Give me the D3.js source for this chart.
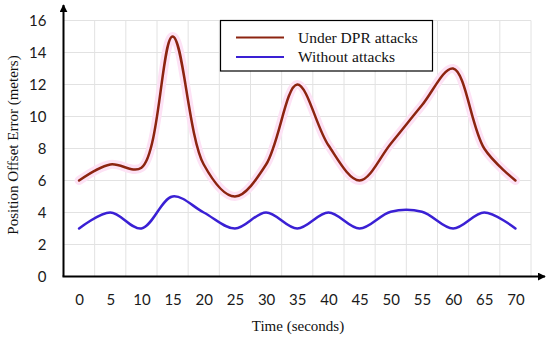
<!DOCTYPE html>
<html>
<head>
<meta charset="utf-8">
<script src="https://cdn.jsdelivr.net/npm/d3@7"></script>
<style>
  body { margin: 0; background: #fff; }
  svg { display: block; }
</style>
</head>
<body>
<div id="chart"></div>
<script>
// data
const times = [0, 5, 10, 15, 20, 25, 30, 35, 40, 45, 50, 55, 60, 65, 70];
const underAttack = [6, 7, 6.8, 15, 7, 5, 7, 12, 8.2, 6, 8.3, 10.7, 13, 8, 6];
const withoutAttack = [3, 4, 3, 5, 4, 3, 4, 3, 4, 3, 4.05, 4.05, 3, 4, 3];
const yTicks = [0, 2, 4, 6, 8, 10, 12, 14, 16];
const seriesNames = ['Under DPR attacks', 'Without attacks'];
const seriesColors = ['#8c2410', '#3a20d4'];

const width = 550;
const height = 338;

const svg = d3.select('#chart').append('svg')
  .attr('width', width)
  .attr('height', height);

const x = d3.scaleLinear().domain([-2.5, 72.5]).range([63.5, 531]);
const y = d3.scaleLinear().domain([0, 16]).range([276.5, 20.5]);

// grid
const grid = svg.append('g').attr('stroke', '#e2e2e2').attr('stroke-width', 1);
grid.selectAll('.vgrid')
  .data(d3.range(2.5, 73, 5))
  .enter()
  .append('line')
  .attr('x1', (d) => x(d))
  .attr('x2', (d) => x(d))
  .attr('y1', y(0))
  .attr('y2', y(16));
grid.selectAll('.hgrid')
  .data(yTicks.slice(1))
  .enter()
  .append('line')
  .attr('x1', x(-2.5))
  .attr('x2', x(72.5))
  .attr('y1', (d) => y(d))
  .attr('y2', (d) => y(d));

// tick labels
const xAxis = svg.append('g')
  .attr('transform', `translate(0,${y(0)})`)
  .call(d3.axisBottom(x).tickValues(times).tickSize(0).tickPadding(18));
xAxis.select('.domain').remove();

const yAxis = svg.append('g')
  .attr('transform', `translate(${x(-2.5)},0)`)
  .call(d3.axisLeft(y).tickValues(yTicks).tickSize(0).tickPadding(17));
yAxis.select('.domain').remove();

svg.selectAll('.tick text')
  .attr('font-family', 'Lato, "Open Sans", sans-serif')
  .attr('font-size', 15)
  .attr('fill', '#1a1a1a');

// axis lines with arrows
svg.append('defs').append('marker')
  .attr('id', 'arrow')
  .attr('viewBox', '0 0 10 10')
  .attr('refX', 9)
  .attr('refY', 5)
  .attr('markerWidth', 4)
  .attr('markerHeight', 4)
  .attr('orient', 'auto')
  .append('path')
  .attr('d', 'M0,0L10,5L0,10Z')
  .attr('fill', '#000');

svg.append('line')
  .attr('x1', x(-2.5)).attr('y1', y(0))
  .attr('x2', x(-2.5)).attr('y2', 5)
  .attr('stroke', '#000').attr('stroke-width', 2)
  .attr('marker-end', 'url(#arrow)');
svg.append('line')
  .attr('x1', x(-2.5) - 1).attr('y1', y(0))
  .attr('x2', 545).attr('y2', y(0))
  .attr('stroke', '#000').attr('stroke-width', 2)
  .attr('marker-end', 'url(#arrow)');

// lines
const line = d3.line()
  .x((d) => x(d[0]))
  .y((d) => y(d[1]))
  .curve(d3.curveCatmullRom.alpha(0.5));

const redPts = times.map((t, i) => [t, underAttack[i]]);
const bluePts = times.map((t, i) => [t, withoutAttack[i]]);

// faint pink halo seen around the red curve
svg.append('path')
  .attr('d', line(redPts))
  .attr('fill', 'none')
  .attr('stroke', '#fde2f5')
  .attr('stroke-width', 9)
  .attr('stroke-linecap', 'round');

svg.append('path')
  .attr('d', line(bluePts))
  .attr('fill', 'none')
  .attr('stroke', seriesColors[1])
  .attr('stroke-width', 2.5)
  .attr('stroke-linecap', 'round');

svg.append('path')
  .attr('d', line(redPts))
  .attr('fill', 'none')
  .attr('stroke', seriesColors[0])
  .attr('stroke-width', 2.5)
  .attr('stroke-linecap', 'round');

// legend
const legend = svg.append('g');
legend.append('rect')
  .attr('x', 220.5).attr('y', 20.5)
  .attr('width', 212).attr('height', 50.5)
  .attr('fill', '#fff')
  .attr('stroke', '#000')
  .attr('stroke-width', 1.2);
seriesNames.forEach((name, i) => {
  const ly = 37.5 + i * 19.5;
  legend.append('line')
    .attr('x1', 236).attr('x2', 284)
    .attr('y1', ly).attr('y2', ly)
    .attr('stroke', seriesColors[i])
    .attr('stroke-width', 2);
  legend.append('text')
    .attr('x', 298)
    .attr('y', ly + 5)
    .attr('font-family', '"Liberation Serif", "Times New Roman", serif')
    .attr('font-size', 15.5)
    .attr('fill', '#111')
    .text(name);
});

// axis titles
svg.append('text')
  .attr('x', 298)
  .attr('y', 331)
  .attr('text-anchor', 'middle')
  .attr('font-family', '"Liberation Serif", "Times New Roman", serif')
  .attr('font-size', 15)
  .attr('fill', '#111')
  .text('Time (seconds)');

svg.append('text')
  .attr('transform', 'translate(18,145) rotate(-90)')
  .attr('text-anchor', 'middle')
  .attr('font-family', '"Liberation Serif", "Times New Roman", serif')
  .attr('font-size', 15)
  .attr('fill', '#111')
  .text('Position Offset Error (meters)');
</script>
</body>
</html>
